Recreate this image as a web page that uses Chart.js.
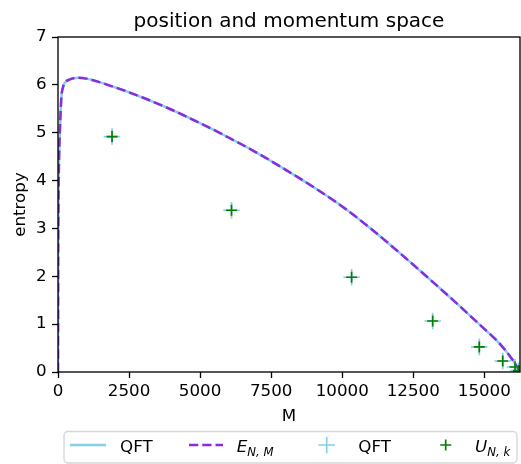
<!DOCTYPE html>
<html>
<head>
<meta charset="utf-8">
<script src="https://cdn.jsdelivr.net/npm/chart.js@4.4.0/dist/chart.umd.min.js"></script>
<style>
  body { margin: 0; background: #fff; }
  #wrap { width: 521px; height: 464px; }
</style>
</head>
<body>
<div id="wrap"><canvas id="entropyChart"></canvas></div>
<script>
// entropy curve
const curveM = [0, 4, 16, 32, 64, 96, 128, 176, 236, 400, 704, 1000, 2000, 3000, 4000, 5000, 6000, 7000, 8000, 9000, 10000, 11000, 12000, 13000, 14000, 15000, 15500, 16000, 16256];
const curveEntropy = [0, 2.0, 3.5, 4.3, 5.0, 5.5, 5.8, 5.95, 6.04, 6.11, 6.15, 6.13, 5.95, 5.73, 5.48, 5.20, 4.90, 4.58, 4.23, 3.86, 3.46, 3.00, 2.50, 1.98, 1.45, 0.90, 0.62, 0.25, 0.0];

// markers
const markerM = [1901, 6105, 10331, 13183, 14824, 15648, 16081, 16200];
const markerEntropyQFT = [4.92, 3.38, 1.98, 1.065, 0.525, 0.23, 0.105, 0.03];
const markerEntropyU = [4.92, 3.38, 1.98, 1.065, 0.525, 0.23, 0.105, 0.03];

// axes
const xTickValues = [0, 2500, 5000, 7500, 10000, 12500, 15000];
const yTickValues = [0, 1, 2, 3, 4, 5, 6, 7];
const xMax = 16256;

const FONT = 'DejaVu Sans';
const SKY = '#87ceeb';
const VIOLET = '#8a2be2';
const GREEN = '#008000';

function toPoints(xs, ys) {
    return xs.map((x, i) => ({ x: x, y: ys[i] }));
}

// titles, spines and legend
const decorPlugin = {
    id: 'decor',
    afterDatasetsDraw(chart) {
        const ctx = chart.ctx;
        const a = chart.chartArea;
        ctx.save();

        // spines
        ctx.strokeStyle = '#000';
        ctx.lineWidth = 1.33;
        ctx.strokeRect(a.left, a.top, a.right - a.left, a.bottom - a.top);

        // title
        ctx.fillStyle = '#000';
        ctx.font = '20px "' + FONT + '"';
        ctx.textAlign = 'center';
        ctx.textBaseline = 'alphabetic';
        ctx.fillText('position and momentum space', (a.left + a.right) / 2, 27);

        // axis labels
        ctx.font = '16.7px "' + FONT + '"';
        ctx.fillText('M', (a.left + a.right) / 2, 420.5);
        ctx.save();
        ctx.translate(25, (a.top + a.bottom) / 2);
        ctx.rotate(-Math.PI / 2);
        ctx.fillText('entropy', 0, 0);
        ctx.restore();

        drawLegend(ctx);
        ctx.restore();
    }
};

function drawCross(ctx, x, y, r, color, w) {
    ctx.strokeStyle = color;
    ctx.lineWidth = w;
    ctx.beginPath();
    ctx.moveTo(x - r, y); ctx.lineTo(x + r, y);
    ctx.moveTo(x, y - r); ctx.lineTo(x, y + r);
    ctx.stroke();
}

function drawMathLabel(ctx, x, y, main, sub) {
    ctx.textAlign = 'left';
    ctx.font = 'italic 16.7px "' + FONT + '"';
    ctx.fillText(main, x, y);
    const w = ctx.measureText(main).width;
    ctx.font = 'italic 11.7px "' + FONT + '"';
    ctx.fillText(sub, x + w, y + 3.5);
}

function drawLegend(ctx) {
    const left = 64, top = 431.5, right = 517, bottom = 463, r = 4;
    ctx.fillStyle = 'rgba(255,255,255,0.8)';
    ctx.strokeStyle = 'rgba(204,204,204,0.8)';
    ctx.lineWidth = 1.33;
    ctx.beginPath();
    ctx.roundRect(left, top, right - left, bottom - top, r);
    ctx.fill();
    ctx.stroke();

    const ly = 445;
    const ty = 452;

    // QFT line
    ctx.strokeStyle = SKY;
    ctx.lineWidth = 2.5;
    ctx.beginPath();
    ctx.moveTo(70, ly); ctx.lineTo(106, ly);
    ctx.stroke();
    ctx.fillStyle = '#000';
    ctx.font = '16.7px "' + FONT + '"';
    ctx.textAlign = 'left';
    ctx.fillText('QFT', 120, ty);

    // E_{N,M} dashed
    ctx.strokeStyle = VIOLET;
    ctx.setLineDash([9.25, 4]);
    ctx.beginPath();
    ctx.moveTo(189, ly); ctx.lineTo(223, ly);
    ctx.stroke();
    ctx.setLineDash([]);
    drawMathLabel(ctx, 236.7, ty, 'E', 'N, M');

    // QFT markers
    drawCross(ctx, 326.7, ly, 8.3, SKY, 1.67);
    ctx.font = '16.7px "' + FONT + '"';
    ctx.fillText('QFT', 358.3, ty);

    // U_{N,k} markers
    drawCross(ctx, 445.7, ly, 5.5, GREEN, 1.67);
    drawMathLabel(ctx, 475, ty, 'U', 'N, k');
}

Chart.defaults.font.family = FONT;
Chart.defaults.color = '#000';

const chart = new Chart(document.getElementById('entropyChart'), {
    type: 'scatter',
    data: {
        datasets: [
            {
                label: 'U_{N,k}',
                data: toPoints(markerM, markerEntropyU),
                showLine: false,
                pointStyle: 'cross',
                pointRadius: 5.5,
                pointBorderColor: GREEN,
                pointBackgroundColor: GREEN,
                pointBorderWidth: 1.67
            },
            {
                label: 'QFT',
                data: toPoints(markerM, markerEntropyQFT),
                showLine: false,
                pointStyle: 'cross',
                pointRadius: 8.3,
                pointBorderColor: SKY,
                pointBackgroundColor: SKY,
                pointBorderWidth: 1.67
            },
            {
                label: 'E_{N,M}',
                data: toPoints(curveM, curveEntropy),
                showLine: true,
                pointRadius: 0,
                borderColor: VIOLET,
                borderWidth: 2.5,
                borderDash: [9.25, 4],
                cubicInterpolationMode: 'monotone'
            },
            {
                label: 'QFT',
                data: toPoints(curveM, curveEntropy),
                showLine: true,
                pointRadius: 0,
                borderColor: SKY,
                borderWidth: 2.5,
                cubicInterpolationMode: 'monotone'
            }
        ]
    },
    options: {
        responsive: true,
        maintainAspectRatio: false,
        animation: false,
        layout: { autoPadding: false, padding: { top: 37, right: 1, left: 0, bottom: 0 } },
        plugins: {
            legend: { display: false },
            tooltip: { enabled: false },
            title: { display: false }
        },
        scales: {
            x: {
                type: 'linear',
                min: 0,
                max: xMax,
                afterFit: s => { s.height = 92; s.paddingLeft = 0; s.paddingRight = 0; },
                afterBuildTicks: s => { s.ticks = xTickValues.map(v => ({ value: v })); },
                border: { display: false },
                grid: { drawOnChartArea: false, drawTicks: true, tickLength: 6, tickColor: '#000', tickWidth: 1.33 },
                ticks: { font: { size: 16.7 }, padding: 4, maxRotation: 0, autoSkip: false, callback: v => String(v) }
            },
            y: {
                type: 'linear',
                min: 0,
                max: 7,
                afterFit: s => { s.width = 58; s.paddingTop = 0; s.paddingBottom = 0; },
                afterBuildTicks: s => { s.ticks = yTickValues.map(v => ({ value: v })); },
                border: { display: false },
                grid: { drawOnChartArea: false, drawTicks: true, tickLength: 6, tickColor: '#000', tickWidth: 1.33 },
                ticks: { font: { size: 16.7 }, padding: 5.5, callback: v => String(v) }
            }
        }
    },
    plugins: [decorPlugin]
});
</script>
</body>
</html>
